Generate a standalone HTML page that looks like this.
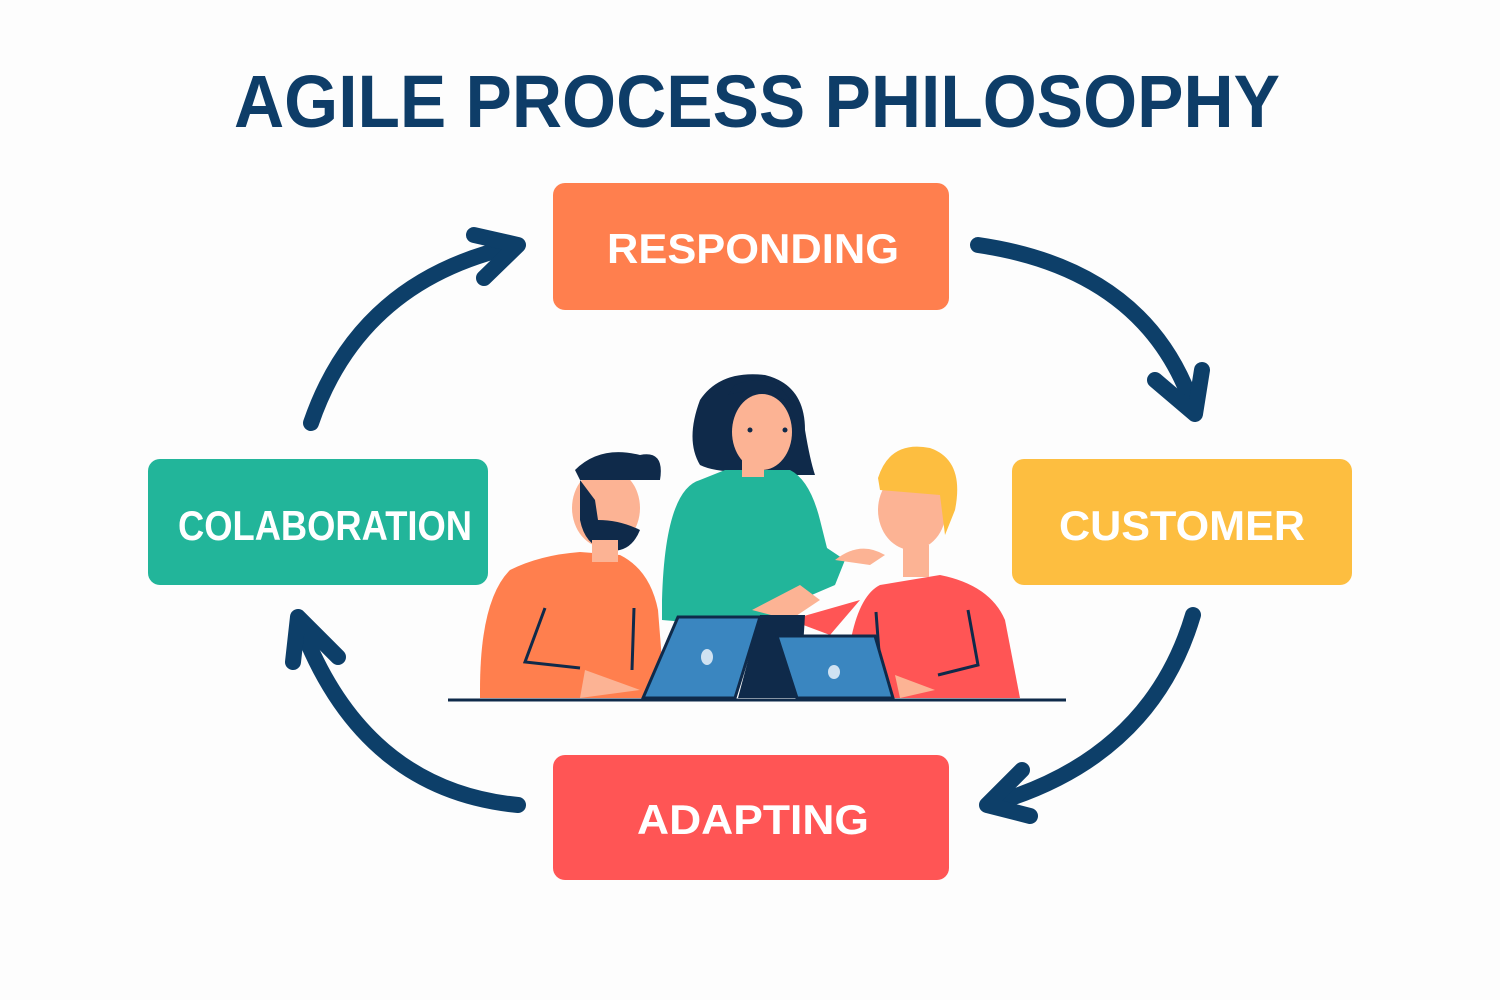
<!DOCTYPE html>
<html><head><meta charset="utf-8"><style>
html,body{margin:0;padding:0;background:#fdfdfd;}
svg{display:block}
text{font-family:"Liberation Sans",sans-serif;font-weight:bold;}
</style></head><body>
<svg width="1500" height="1000" viewBox="0 0 1500 1000">
<rect width="1500" height="1000" fill="#fdfdfd"/>
<text x="757" y="127" font-size="74" fill="#0E3D68" text-anchor="middle" textLength="1046" lengthAdjust="spacingAndGlyphs">AGILE PROCESS PHILOSOPHY</text>

<rect x="553" y="183" width="396" height="127" rx="12" fill="#FF7F4E"/>
<text x="753" y="263" font-size="42" fill="#fff" text-anchor="middle" textLength="292" lengthAdjust="spacingAndGlyphs">RESPONDING</text>
<rect x="148" y="459" width="340" height="126" rx="12" fill="#22B59A"/>
<text x="325" y="540" font-size="42" fill="#fff" text-anchor="middle" textLength="294" lengthAdjust="spacingAndGlyphs">COLABORATION</text>
<rect x="1012" y="459" width="340" height="126" rx="12" fill="#FDBE40"/>
<text x="1182" y="540" font-size="42" fill="#fff" text-anchor="middle" textLength="246" lengthAdjust="spacingAndGlyphs">CUSTOMER</text>
<rect x="553" y="755" width="396" height="125" rx="12" fill="#FF5555"/>
<text x="753" y="834" font-size="42" fill="#fff" text-anchor="middle" textLength="232" lengthAdjust="spacingAndGlyphs">ADAPTING</text>

<g fill="none" stroke="#0D3F69" stroke-width="16" stroke-linecap="round" stroke-linejoin="round">
<path d="M311 423 Q360 280 515 246"/>
<path d="M474 235 L518 245 L484 278"/>
<path d="M978 245 Q1150 270 1195 413"/>
<path d="M1155 380 L1195 414 L1202 370"/>
<path d="M1193 615 Q1150 760 988 805"/>
<path d="M1022 770 L987 805 L1030 816"/>
<path d="M518 805 Q360 790 298 618"/>
<path d="M293 662 L298 617 L338 657"/>
</g>

<!-- woman -->
<path d="M700 400 Q720 370 765 375 Q805 385 805 430 Q810 460 815 475 L795 475 L770 470 Q720 475 700 465 Q685 440 700 400Z" fill="#0F2A4A"/>
<path d="M662 600 Q665 490 700 480 L725 470 L790 470 Q810 480 820 520 L830 560 L835 585 L800 600 L780 630 L662 620Z" fill="#22B59A"/>
<path d="M815 540 L835 585 L845 560 Z" fill="#22B59A"/>
<ellipse cx="762" cy="432" rx="30" ry="38" fill="#FCB394"/>
<path d="M728 395 Q760 385 795 405 L790 400 Q770 370 735 385Z" fill="#0F2A4A"/>
<rect x="742" y="455" width="22" height="22" fill="#FCB394"/>
<path d="M835 560 Q860 540 885 555 L870 565 Z" fill="#FCB394"/>
<path d="M752 610 L800 585 L820 600 L790 620 Z" fill="#FCB394"/>
<circle cx="750" cy="430" r="2.5" fill="#0F2A4A"/><circle cx="785" cy="430" r="2.5" fill="#0F2A4A"/>
<!-- left man -->
<path d="M480 690 Q480 600 510 570 Q540 555 580 552 L620 555 Q650 570 658 610 L665 698 L480 698Z" fill="#FF7F4E"/>
<ellipse cx="606" cy="508" rx="34" ry="40" fill="#FCB394"/>
<path d="M575 470 Q600 445 640 455 Q665 450 660 480 L645 480 L580 480 Z" fill="#0F2A4A"/>
<path d="M580 480 L595 500 L598 520 Q620 520 640 530 Q630 555 605 550 Q585 545 580 520Z" fill="#0F2A4A"/>
<rect x="592" y="540" width="26" height="22" fill="#FCB394"/>
<path d="M585 670 L640 690 L580 698Z" fill="#FCB394"/>
<g stroke="#0F2A4A" stroke-width="3" fill="none"><path d="M545 608 L525 662 L580 668 M634 608 L632 670"/></g>
<!-- right man -->
<path d="M845 690 Q850 600 880 585 L940 575 Q990 585 1005 620 L1020 698 L845 698Z" fill="#FF5555"/>
<path d="M790 620 L830 635 L860 600 Z" fill="#FF5555"/>
<ellipse cx="912" cy="510" rx="34" ry="40" fill="#FCB394"/>
<path d="M878 478 Q890 440 930 448 Q965 460 955 510 L945 535 L940 495 L880 490Z" fill="#FDBE40"/>
<rect x="903" y="545" width="26" height="32" fill="#FCB394"/>
<path d="M895 675 L935 690 L900 698Z" fill="#FCB394"/>
<g stroke="#0F2A4A" stroke-width="3" fill="none"><path d="M968 610 L978 665 L938 675 M876 612 L880 665"/></g>
<!-- laptops -->
<path d="M760 615 L805 615 L800 698 L738 698Z" fill="#0F2A4A"/>
<path d="M678 617 L760 617 L735 698 L643 698Z" fill="#3A86C0" stroke="#0F2A4A" stroke-width="3"/>
<path d="M777 636 L875 636 L893 698 L797 698Z" fill="#3A86C0" stroke="#0F2A4A" stroke-width="3"/>
<ellipse cx="707" cy="657" rx="6" ry="8" fill="#cfe2f2"/>
<ellipse cx="834" cy="672" rx="6" ry="7" fill="#cfe2f2"/>
<line x1="448" y1="700" x2="1066" y2="700" stroke="#0F2A4A" stroke-width="3"/>
</svg>
</body></html>
